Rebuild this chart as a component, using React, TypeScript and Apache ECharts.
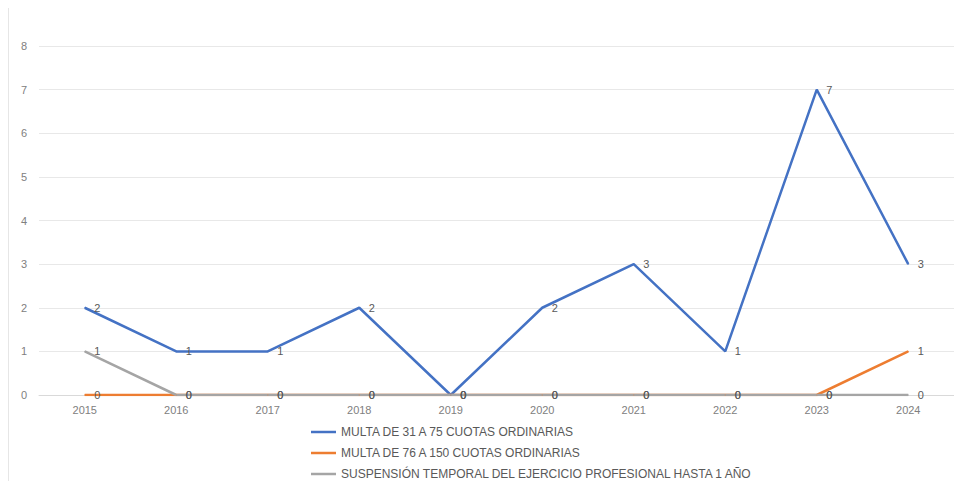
import React, { useEffect, useRef } from "react";
import * as echarts from "echarts";

const years = ["2015", "2016", "2017", "2018", "2019", "2020", "2021", "2022", "2023", "2024"];
const multa31 = [2, 1, 1, 2, 0, 2, 3, 1, 7, 3];
const multa76 = [0, 0, 0, 0, 0, 0, 0, 0, 0, 1];
const suspension = [1, 0, 0, 0, 0, 0, 0, 0, 0, 0];
const seriesNames = [
  "MULTA DE 31 A 75 CUOTAS ORDINARIAS",
  "MULTA DE 76 A 150 CUOTAS ORDINARIAS",
  "SUSPENSIÓN TEMPORAL DEL EJERCICIO PROFESIONAL HASTA 1 AÑO",
];
const colors = ["#4472C4", "#ED7D31", "#A5A5A5"];

const FONT = "'Liberation Sans', Arial, sans-serif";

export default function App() {
  const ref = useRef<HTMLDivElement>(null);
  useEffect(() => {
    if (!ref.current) return;
    const chart = echarts.init(ref.current, undefined, { renderer: "svg" });
    const data = [multa31, multa76, suspension];
    chart.setOption({
      animation: false,
      textStyle: { fontFamily: FONT },
      grid: { left: 31, right: 0, top: 38, bottom: 113 },
      legend: {
        orient: "vertical",
        left: 303,
        top: 418,
        height: 90,
        padding: 0,
        itemWidth: 25,
        itemHeight: 2.5,
        itemGap: 9,
        icon: "rect",
        textStyle: { fontSize: 12, lineHeight: 12, color: "#595959", fontFamily: FONT },
        data: seriesNames.map((n, i) => ({ name: n, itemStyle: { color: colors[i], opacity: 1 } })),
      },
      xAxis: {
        type: "category",
        data: years,
        boundaryGap: true,
        axisLine: { lineStyle: { color: "#D9D9D9" } },
        axisTick: { show: false },
        axisLabel: { color: "#808080", fontSize: 11, margin: 9 },
      },
      yAxis: {
        type: "value",
        min: 0,
        max: 8,
        interval: 1,
        axisLabel: { color: "#808080", fontSize: 11, margin: 12 },
        splitLine: { lineStyle: { color: "#E8E8E8" } },
      },
      graphic: [
        { type: "line", shape: { x1: 0.5, y1: 0, x2: 0.5, y2: 500 }, style: { stroke: "#E6E6E6", lineWidth: 1 } },
      ],
      series: seriesNames.map((name, i) => ({
        name,
        type: "line",
        data: data[i],
        symbol: "circle",
        symbolSize: 1,
        showSymbol: true,
        lineStyle: { color: colors[i], width: 2.5 },
        itemStyle: { color: colors[i] },
        label: {
          show: true,
          position: "right",
          distance: 9,
          color: "#595959",
          fontSize: 11,
          fontFamily: FONT,
        },
        labelLayout: { hideOverlap: false },
      })),
    });
    return () => chart.dispose();
  }, []);
  return (
    <div style={{ width: 946, height: 473, overflow: "hidden" }}>
      <div ref={ref} style={{ width: 946, height: 500 }} />
    </div>
  );
}
